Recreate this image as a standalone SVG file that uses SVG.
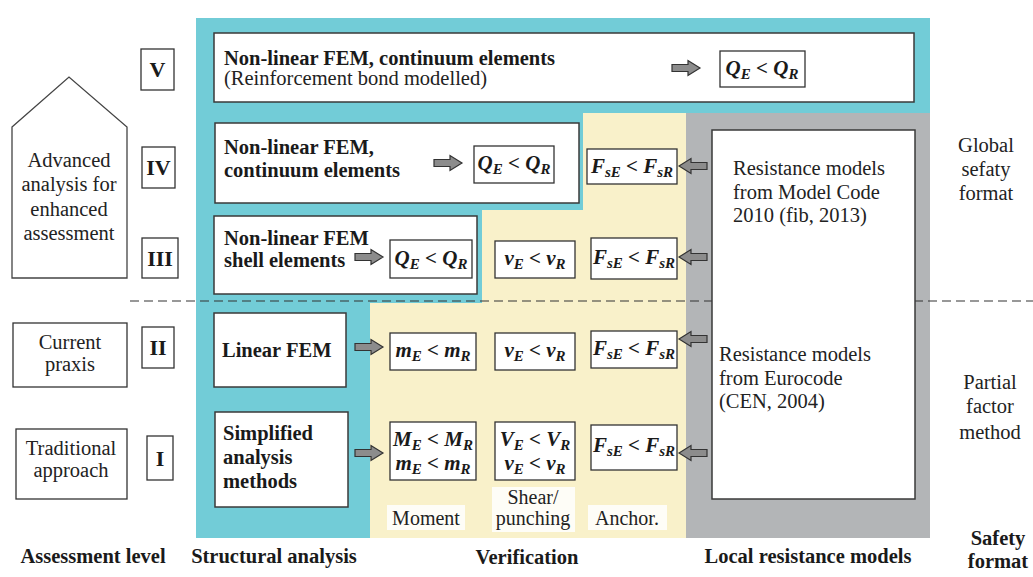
<svg xmlns="http://www.w3.org/2000/svg" width="1033" height="577" viewBox="0 0 1033 577">
<style>
.t{font-family:'Liberation Serif','Tinos','Times New Roman','DejaVu Serif',serif;fill:#1a1a1a}
.r{font-size:20.5px;fill:#222}
.b{font-size:20.5px;font-weight:bold}
.n{font-size:22px;font-weight:bold}
.m{font-family:'Liberation Serif','Tinos','Times New Roman','DejaVu Serif',serif;font-size:21px;font-weight:bold;font-style:italic;fill:#1a1a1a}
.s{font-size:15px}
.box{fill:#fff;stroke:#333;stroke-width:1.3}
.wbox{fill:#fff;stroke:#3a3a3a;stroke-width:1.5}
.arr{fill:#8c8c8c;stroke:#333;stroke-width:1.2}
.lab{fill:#fff;opacity:0.85}
</style>
<defs>
<path id="ar" d="M0,-3.5 H16 V-7.5 L28,0 L16,7.5 V3.5 H0 Z"/>
</defs>
<rect width="1033" height="577" fill="#fff"/>
<g id="background">
<rect x="196" y="18" width="734" height="520" fill="#72ccd7"/>
<polygon points="583,113 686,113 686,538 370,538 370,303 482,303 482,210 583,210" fill="#f9f1ca"/>
<rect x="686" y="113" width="244" height="425" fill="#b3b5b7"/>
</g>
<line x1="130" y1="301" x2="1033" y2="301" stroke="#333" stroke-width="1.2" stroke-dasharray="9,5"/>

<g id="house">
<polygon points="12,127 69,77 127,127 127,278 12,278" fill="#fff" stroke="#444" stroke-width="1.3"/>
<text class="t r" text-anchor="middle"><tspan x="69" y="167">Advanced</tspan><tspan x="69" y="191">analysis  for</tspan><tspan x="69" y="216">enhanced</tspan><tspan x="69" y="240">assessment</tspan></text>
</g>
<g id="current">
<rect x="13" y="323" width="114" height="64" class="box"/>
<text class="t r" text-anchor="middle"><tspan x="70" y="349">Current</tspan><tspan x="70" y="371">praxis</tspan></text>
</g>
<g id="traditional">
<rect x="16" y="429" width="111" height="70" class="box"/>
<text class="t r" text-anchor="middle"><tspan x="71" y="455">Traditional</tspan><tspan x="71" y="477">approach</tspan></text>
</g>

<g id="lvl-V"><rect x="141" y="49" width="33" height="41" class="box"/><text class="t n" x="157.5" y="77" text-anchor="middle">V</text></g>
<g id="lvl-IV"><rect x="142" y="147" width="33" height="41" class="box"/><text class="t n" x="158.5" y="175" text-anchor="middle">IV</text></g>
<g id="lvl-III"><rect x="142" y="238" width="36" height="40" class="box"/><text class="t n" x="160" y="266" text-anchor="middle">III</text></g>
<g id="lvl-II"><rect x="142" y="327" width="32" height="41" class="box"/><text class="t n" x="158" y="355" text-anchor="middle">II</text></g>
<g id="lvl-I"><rect x="147" y="436" width="26" height="44" class="box"/><text class="t n" x="160" y="466" text-anchor="middle">I</text></g>

<g id="fem-V">
<rect x="214" y="33" width="700" height="69" class="wbox"/>
<text class="t b" x="224" y="65">Non-linear FEM, continuum  elements</text>
<text class="t r" x="224" y="85">(Reinforcement  bond modelled)</text>
</g>
<g id="fem-IV">
<rect x="215" y="123" width="364" height="80" class="wbox"/>
<text class="t b"><tspan x="224" y="154">Non-linear FEM,</tspan><tspan x="224" y="177">continuum  elements</tspan></text>
</g>
<g id="fem-III">
<rect x="214" y="216" width="263" height="78" class="wbox"/>
<text class="t b"><tspan x="224" y="245">Non-linear FEM</tspan><tspan x="224" y="267">shell elements</tspan></text>
</g>
<g id="fem-II">
<rect x="214" y="313" width="132" height="74" class="wbox"/>
<text class="t b" x="222" y="357">Linear FEM</text>
</g>
<g id="fem-I">
<rect x="215" y="412" width="133" height="95" class="wbox"/>
<text class="t b"><tspan x="223" y="440">Simplified</tspan><tspan x="223" y="464">analysis</tspan><tspan x="223" y="488">methods</tspan></text>
</g>

<g id="res-models">
<rect x="712" y="130" width="203" height="369" class="wbox"/>
<text class="t r"><tspan x="733" y="175">Resistance models</tspan><tspan x="733" y="199">from Model Code</tspan><tspan x="733" y="222">2010 (fib, 2013)</tspan></text>
<text class="t r"><tspan x="719" y="361">Resistance models</tspan><tspan x="719" y="385">from Eurocode</tspan><tspan x="719" y="408">(CEN, 2004)</tspan></text>
</g>

<g id="verif-V-Q"><rect x="720" y="51" width="85" height="36" class="box"/><text class="m" x="762" y="75" text-anchor="middle">Q<tspan class="s" dy="4">E</tspan><tspan dy="-4"> &lt; Q</tspan><tspan class="s" dy="4">R</tspan></text></g>
<g id="verif-IV-Q"><rect x="474" y="146" width="80" height="37" class="box"/><text class="m" x="514" y="170" text-anchor="middle">Q<tspan class="s" dy="4">E</tspan><tspan dy="-4"> &lt; Q</tspan><tspan class="s" dy="4">R</tspan></text></g>
<g id="verif-IV-F"><rect x="587" y="149" width="90" height="35" class="box"/><text class="m" x="632" y="173" text-anchor="middle">F<tspan class="s" dy="4">sE</tspan><tspan dy="-4"> &lt; F</tspan><tspan class="s" dy="4">sR</tspan></text></g>
<g id="verif-III-Q"><rect x="390" y="240" width="82" height="38" class="box"/><text class="m" x="431" y="265" text-anchor="middle">Q<tspan class="s" dy="4">E</tspan><tspan dy="-4"> &lt; Q</tspan><tspan class="s" dy="4">R</tspan></text></g>
<g id="verif-III-v"><rect x="495" y="241" width="80" height="37" class="box"/><text class="m" x="535" y="265" text-anchor="middle">v<tspan class="s" dy="4">E</tspan><tspan dy="-4"> &lt; v</tspan><tspan class="s" dy="4">R</tspan></text></g>
<g id="verif-III-F"><rect x="591" y="238" width="86" height="41" class="box"/><text class="m" x="634" y="264" text-anchor="middle">F<tspan class="s" dy="4">sE</tspan><tspan dy="-4"> &lt; F</tspan><tspan class="s" dy="4">sR</tspan></text></g>
<g id="verif-II-m"><rect x="390" y="333" width="86" height="37" class="box"/><text class="m" x="433" y="357" text-anchor="middle">m<tspan class="s" dy="4">E</tspan><tspan dy="-4"> &lt; m</tspan><tspan class="s" dy="4">R</tspan></text></g>
<g id="verif-II-v"><rect x="495" y="333" width="80" height="37" class="box"/><text class="m" x="535" y="357" text-anchor="middle">v<tspan class="s" dy="4">E</tspan><tspan dy="-4"> &lt; v</tspan><tspan class="s" dy="4">R</tspan></text></g>
<g id="verif-II-F"><rect x="591" y="331" width="86" height="37" class="box"/><text class="m" x="634" y="355" text-anchor="middle">F<tspan class="s" dy="4">sE</tspan><tspan dy="-4"> &lt; F</tspan><tspan class="s" dy="4">sR</tspan></text></g>
<g id="verif-I-M"><rect x="390" y="422" width="86" height="58" class="box"/><text class="m" text-anchor="middle"><tspan x="433" y="446">M</tspan><tspan class="s" dy="4">E</tspan><tspan dy="-4"> &lt; M</tspan><tspan class="s" dy="4">R</tspan><tspan x="433" y="470">m</tspan><tspan class="s" dy="4">E</tspan><tspan dy="-4"> &lt; m</tspan><tspan class="s" dy="4">R</tspan></text></g>
<g id="verif-I-V"><rect x="495" y="422" width="80" height="58" class="box"/><text class="m" text-anchor="middle"><tspan x="535" y="446">V</tspan><tspan class="s" dy="4">E</tspan><tspan dy="-4"> &lt; V</tspan><tspan class="s" dy="4">R</tspan><tspan x="535" y="470">v</tspan><tspan class="s" dy="4">E</tspan><tspan dy="-4"> &lt; v</tspan><tspan class="s" dy="4">R</tspan></text></g>
<g id="verif-I-F"><rect x="591" y="425" width="86" height="45" class="box"/><text class="m" x="634" y="452" text-anchor="middle">F<tspan class="s" dy="4">sE</tspan><tspan dy="-4"> &lt; F</tspan><tspan class="s" dy="4">sR</tspan></text></g>

<g id="cat-labels">
<rect x="387" y="505" width="78" height="25" class="lab"/>
<rect x="492" y="487" width="83" height="45" class="lab"/>
<rect x="588" y="505" width="79" height="25" class="lab"/>
<text class="t r" x="426" y="525" text-anchor="middle" style="font-size:20px">Moment</text>
<text class="t r" text-anchor="middle" style="font-size:20px"><tspan x="533" y="504">Shear/</tspan><tspan x="533" y="525">punching</tspan></text>
<text class="t r" x="627" y="525" text-anchor="middle" style="font-size:20px">Anchor.</text>
</g>

<g id="connectors">
<use href="#ar" class="arr" transform="translate(672,68)"/>
<use href="#ar" class="arr" transform="translate(434,163)"/>
<use href="#ar" class="arr" transform="translate(355,257)"/>
<use href="#ar" class="arr" transform="translate(355,347)"/>
<use href="#ar" class="arr" transform="translate(355,453)"/>
<use href="#ar" class="arr" transform="translate(707,166) scale(-1,1)"/>
<use href="#ar" class="arr" transform="translate(707,257) scale(-1,1)"/>
<use href="#ar" class="arr" transform="translate(707,339) scale(-1,1)"/>
<use href="#ar" class="arr" transform="translate(707,453) scale(-1,1)"/>
</g>

<g id="side-labels">
<text class="t r" text-anchor="middle"><tspan x="986" y="152">Global</tspan><tspan x="986" y="176">sefaty</tspan><tspan x="986" y="200">format</tspan></text>
<text class="t r" text-anchor="middle"><tspan x="990" y="389">Partial</tspan><tspan x="990" y="413">factor</tspan><tspan x="990" y="439">method</tspan></text>
<text class="t b" text-anchor="middle"><tspan x="998" y="545">Safety</tspan><tspan x="998" y="568">format</tspan></text>
</g>
<g id="bottom-labels">
<text class="t b" x="93" y="563" text-anchor="middle">Assessment level</text>
<text class="t b" x="274" y="563" text-anchor="middle">Structural analysis</text>
<text class="t b" x="527" y="564" text-anchor="middle">Verification</text>
<text class="t b" x="808" y="563" text-anchor="middle">Local resistance models</text>
</g>
</svg>
